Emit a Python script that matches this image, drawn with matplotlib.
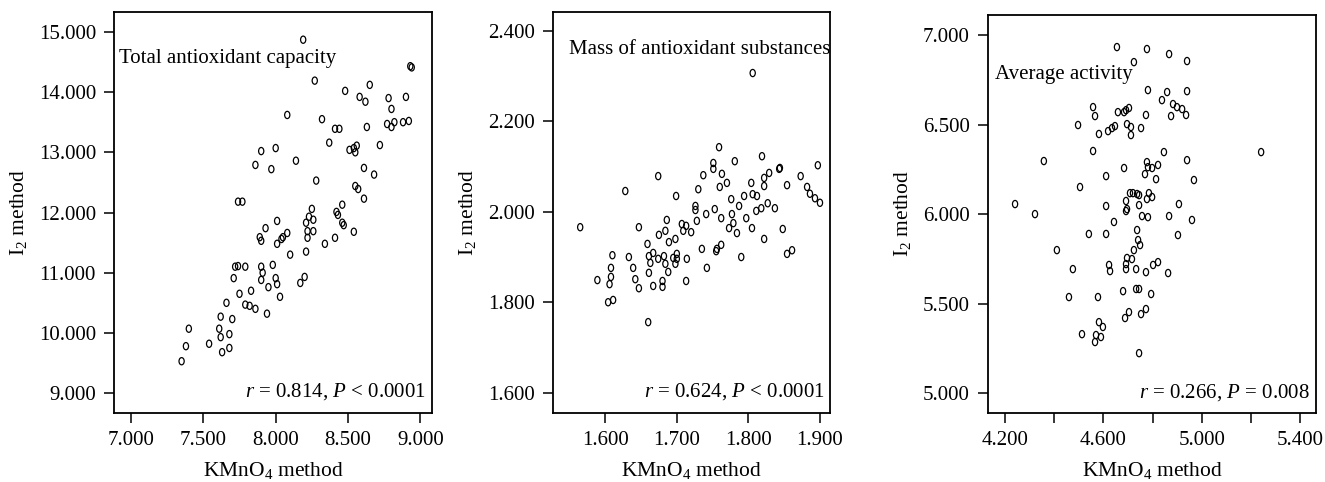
import matplotlib
matplotlib.use('Agg')
import matplotlib.pyplot as plt
import numpy as np
from matplotlib.path import Path

plt.rcParams['font.family'] = ['Liberation Serif', 'DejaVu Serif']
plt.rcParams['mathtext.fontset'] = 'custom'
plt.rcParams['mathtext.rm'] = 'Liberation Serif'
plt.rcParams['mathtext.it'] = 'Liberation Serif:italic'

# Total antioxidant capacity
tac_kmno4 = [8.19, 8.27, 8.48, 8.58, 8.62, 8.65, 8.08, 8.32, 8.41, 8.44, 8.63, 8.37,
             7.90, 8.00, 7.86, 7.97, 8.14, 8.51, 8.54, 8.56, 8.55, 8.61, 8.28, 8.55,
             8.57, 8.61, 7.77, 7.74, 8.46, 8.42, 8.43, 8.46, 8.25, 8.23, 8.26, 8.21,
             8.26, 8.22, 8.54, 8.01, 7.93, 7.89, 7.90, 8.08, 8.05, 8.01, 8.34, 8.41,
             8.22, 8.21, 8.04, 8.10, 8.47,
             7.72, 7.74, 7.79, 7.90, 7.91, 7.90, 7.98, 8.00, 8.01, 7.95, 8.03, 8.20,
             8.17, 7.71, 7.83, 7.75, 7.66, 7.79, 7.82, 7.86, 7.94, 7.62, 7.70, 7.40,
             7.61, 7.62, 7.68, 7.38, 7.54, 7.68, 7.63, 7.35,
             8.93, 8.94, 8.78, 8.80, 8.77, 8.80, 8.82, 8.88, 8.92, 8.90, 8.72, 8.68]
tac_i2 = [14.87, 14.19, 14.02, 13.92, 13.84, 14.12, 13.62, 13.55, 13.39, 13.39, 13.42, 13.16,
          13.02, 13.07, 12.79, 12.72, 12.86, 13.04, 13.07, 13.11, 13.00, 12.74, 12.53, 12.44,
          12.39, 12.23, 12.18, 12.18, 12.13, 12.01, 11.96, 11.83, 12.06, 11.93, 11.88, 11.83,
          11.69, 11.69, 11.68, 11.86, 11.74, 11.59, 11.53, 11.66, 11.59, 11.48, 11.48, 11.58,
          11.58, 11.35, 11.56, 11.30, 11.79,
          11.10, 11.11, 11.10, 11.10, 11.00, 10.88, 11.13, 10.91, 10.81, 10.76, 10.60, 10.93,
          10.83, 10.91, 10.70, 10.65, 10.50, 10.47, 10.45, 10.40, 10.32, 10.27, 10.23, 10.07,
          10.07, 9.93, 9.98, 9.78, 9.82, 9.75, 9.68, 9.53,
          14.43, 14.41, 13.90, 13.72, 13.47, 13.42, 13.50, 13.50, 13.52, 13.92, 13.12, 12.63]

# Mass of antioxidant substances
mas_kmno4 = [1.806, 1.759, 1.819, 1.781, 1.751, 1.751, 1.843, 1.844, 1.674, 1.737, 1.763, 1.770,
             1.760, 1.804, 1.822, 1.829, 1.822, 1.873, 1.882, 1.854, 1.628, 1.730, 1.699, 1.806,
             1.812, 1.794, 1.776, 1.787, 1.726, 1.726, 1.753, 1.741, 1.777, 1.762, 1.779, 1.773,
             1.784, 1.811, 1.818, 1.827, 1.837, 1.797, 1.805, 1.822, 1.848, 1.854, 1.861, 1.790,
             1.565, 1.647, 1.686, 1.707, 1.713, 1.709, 1.720, 1.728, 1.675, 1.684, 1.689, 1.698,
             1.659, 1.735, 1.755, 1.756, 1.762, 1.610, 1.633, 1.661, 1.667, 1.674, 1.682, 1.695,
             1.700, 1.700, 1.714, 1.663, 1.684, 1.698, 1.608, 1.639, 1.661, 1.688, 1.742, 1.589,
             1.608, 1.606, 1.642, 1.647, 1.667, 1.680, 1.680, 1.713, 1.604, 1.611, 1.660,
             1.897, 1.893, 1.900, 1.886]
mas_i2 = [2.307, 2.143, 2.123, 2.112, 2.108, 2.095, 2.095, 2.097, 2.079, 2.081, 2.084, 2.064,
          2.055, 2.064, 2.075, 2.086, 2.057, 2.079, 2.055, 2.059, 2.046, 2.050, 2.035, 2.039,
          2.035, 2.035, 2.028, 2.013, 2.013, 2.004, 2.006, 1.995, 1.995, 1.986, 1.975, 1.964,
          1.953, 2.002, 2.008, 2.019, 2.008, 1.986, 1.964, 1.940, 1.962, 1.907, 1.915, 1.900,
          1.966, 1.966, 1.982, 1.973, 1.969, 1.958, 1.955, 1.980, 1.949, 1.958, 1.933, 1.940,
          1.929, 1.918, 1.913, 1.918, 1.927, 1.904, 1.900, 1.902, 1.909, 1.896, 1.902, 1.898,
          1.907, 1.896, 1.896, 1.887, 1.885, 1.885, 1.876, 1.876, 1.865, 1.867, 1.876, 1.849,
          1.856, 1.840, 1.851, 1.831, 1.836, 1.847, 1.834, 1.847, 1.800, 1.805, 1.756,
          2.103, 2.030, 2.020, 2.040]

# Average activity
avg_kmno4 = [4.655, 4.777, 4.867, 4.940, 4.724, 4.781, 4.859, 4.838, 4.940, 4.883, 4.899, 4.920,
             4.936, 4.875, 4.558, 4.566, 4.659, 4.684, 4.692, 4.704, 4.773, 4.497, 4.582, 4.619,
             4.635, 4.647, 4.696, 4.712, 4.712, 4.753, 4.558, 4.846, 5.241, 4.358, 4.940, 4.684,
             4.777, 4.781, 4.798, 4.822, 4.769, 4.814, 4.611, 4.968, 4.505, 4.708, 4.720, 4.737,
             4.745, 4.692, 4.785, 4.798, 4.777, 4.907, 4.611, 4.745, 4.696, 4.241, 4.322, 4.692,
             4.757, 4.781, 4.867, 4.960, 4.643, 4.541, 4.611, 4.737, 4.741, 4.749, 4.903, 4.411,
             4.724, 4.716, 4.696, 4.692, 4.623, 4.627, 4.692, 4.733, 4.773, 4.802, 4.822, 4.863,
             4.476, 4.460, 4.578, 4.680, 4.733, 4.745, 4.794, 4.704, 4.688, 4.753, 4.773, 4.582,
             4.598, 4.513, 4.570, 4.590, 4.566, 4.745]
avg_i2 = [6.933, 6.922, 6.894, 6.855, 6.849, 6.693, 6.682, 6.637, 6.687, 6.615, 6.598, 6.587,
          6.554, 6.548, 6.598, 6.548, 6.570, 6.570, 6.581, 6.593, 6.554, 6.498, 6.448, 6.464,
          6.481, 6.492, 6.503, 6.487, 6.442, 6.481, 6.353, 6.347, 6.347, 6.297, 6.302, 6.258,
          6.291, 6.263, 6.258, 6.275, 6.224, 6.196, 6.213, 6.191, 6.152, 6.118, 6.118, 6.113,
          6.107, 6.074, 6.118, 6.096, 6.085, 6.057, 6.046, 6.051, 6.029, 6.057, 6.001, 6.018,
          5.990, 5.984, 5.990, 5.968, 5.957, 5.890, 5.890, 5.912, 5.856, 5.828, 5.884, 5.800,
          5.800, 5.750, 5.756, 5.722, 5.717, 5.683, 5.694, 5.694, 5.677, 5.717, 5.733, 5.672,
          5.694, 5.538, 5.538, 5.571, 5.583, 5.583, 5.555, 5.454, 5.421, 5.443, 5.471, 5.398,
          5.371, 5.331, 5.326, 5.315, 5.287, 5.225]

titles = ['Total antioxidant capacity', 'Mass of antioxidant substances', 'Average activity']
stats = ['$r$ = 0.814, $P$ < 0.0001', '$r$ = 0.624, $P$ < 0.0001', '$r$ = 0.266, $P$ = 0.008']
xticks = [[7.0, 7.5, 8.0, 8.5, 9.0],
          [1.6, 1.7, 1.8, 1.9],
          [4.2, 4.4, 4.6, 4.8, 5.0, 5.2, 5.4]]
xtick_shown = [[True] * 5, [True] * 4, [True, False, True, False, True, False, True]]
yticks = [[9, 10, 11, 12, 13, 14, 15],
          [1.6, 1.8, 2.0, 2.2, 2.4],
          [5.0, 5.5, 6.0, 6.5, 7.0]]

W, H = 1325, 482


def px_axes(fig, left, right, top, bottom):
    return fig.add_axes([left / W, (H - bottom) / H, (right - left) / W, (bottom - top) / H])


def plot_panel(ax, x, y, xlim, ylim, xt, shown, yt, title, title_pos, stat):
    circ = Path.unit_circle()
    oval = Path(circ.vertices * np.array([0.72, 1.0]), circ.codes)
    ax.scatter(x, y, marker=oval, s=27, facecolors='none', edgecolors='black', linewidths=0.9)
    ax.set_xlim(xlim)
    ax.set_ylim(ylim)
    ax.set_xticks(xt)
    ax.set_xticklabels(['%.3f' % v if s else '' for v, s in zip(xt, shown)])
    ax.set_yticks(yt)
    ax.set_yticklabels(['%.3f' % v for v in yt])
    ax.tick_params(direction='out', length=7, width=1.1, labelsize=15, pad=6, color='black')
    for sp in ax.spines.values():
        sp.set_linewidth(1.3)
    ax.text(title_pos[0], title_pos[1], title, transform=ax.transAxes,
            fontsize=15, va='baseline', ha='left')
    ax.text(0.98, 0.04, stat, transform=ax.transAxes, fontsize=15, va='baseline', ha='right')
    ax.set_xlabel('KMnO$_4$ method', fontsize=15.5, labelpad=7)
    ax.set_ylabel('I$_2$ method', fontsize=15.5, labelpad=7)


fig = plt.figure(figsize=(W / 100, H / 100), dpi=100)
ax1 = px_axes(fig, 114, 432, 12, 413)
ax2 = px_axes(fig, 553, 830, 12, 413)
ax3 = px_axes(fig, 988, 1316, 15, 413)

plot_panel(ax1, tac_kmno4, tac_i2, (6.883, 9.08), (8.67, 15.33), xticks[0], xtick_shown[0],
           yticks[0], titles[0], (0.016, 0.873), stats[0])
plot_panel(ax2, mas_kmno4, mas_i2, (1.527, 1.914), (1.555, 2.442), xticks[1], xtick_shown[1],
           yticks[1], titles[1], (0.058, 0.895), stats[1])
plot_panel(ax3, avg_kmno4, avg_i2, (4.131, 5.464), (4.891, 7.112), xticks[2], xtick_shown[2],
           yticks[2], titles[2], (0.021, 0.839), stats[2])

fig.savefig('out.png', dpi=100)
